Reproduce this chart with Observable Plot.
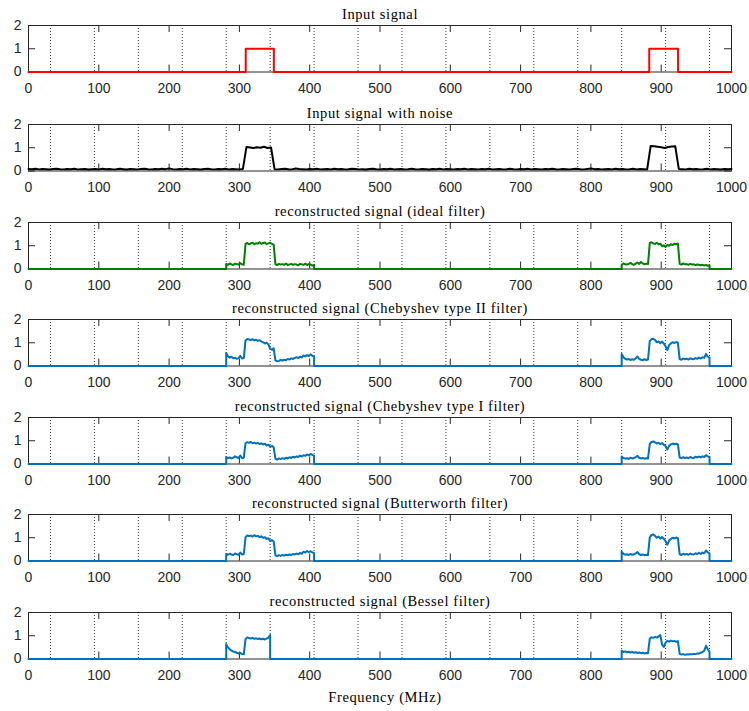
<!DOCTYPE html>
<html><head><meta charset="utf-8">
<script src="https://cdn.jsdelivr.net/npm/d3@7"></script>
<script src="https://cdn.jsdelivr.net/npm/@observablehq/plot@0.6"></script>
<style>
html,body{margin:0;padding:0;background:#fff;}
#chart{position:relative;width:749px;height:711px;overflow:hidden;}
#chart svg{position:absolute;left:0;background:transparent !important;}
#chart .ttl text{letter-spacing:0.6px;}
</style></head><body><div id="chart"></div>
<script>
// ---------- data ----------
const xTicks = [0, 100, 200, 300, 400, 500, 600, 700, 800, 900, 1000];
const yTicks = [0, 1, 2];
const channelEdges = [31.25, 93.75, 156.25, 218.75, 281.25, 343.75, 406.25, 468.75,
  531.25, 593.75, 656.25, 718.75, 781.25, 843.75, 906.25, 968.75];

const titles = [
  "Input signal",
  "Input signal with noise",
  "reconstructed signal (ideal filter)",
  "reconstructed signal (Chebyshev type II filter)",
  "reconstructed signal (Chebyshev type I filter)",
  "reconstructed signal (Butterworth filter)",
  "reconstructed signal (Bessel filter)"
];
const xLabel = "Frequency (MHz)";
const colors = ["#ff0000", "#000000", "#008000", "#0072bd", "#0072bd", "#0072bd", "#0072bd"];

// input pulses [start, end] MHz, amplitude 1
const inputPulses = [[309, 349], [883, 924]];
const inputLevel = 1;

// noisy input, sampled every 5 MHz from 0 to 1000
const noiseStep = 5;
const noisy = [
  0.09,0.08,0.10,0.07,0.09,0.08,0.06,0.09,0.10,0.08,0.07,0.09,0.08,0.10,0.07,0.08,0.09,0.06,0.08,0.09,
  0.07,0.10,0.08,0.09,0.07,0.08,0.10,0.08,0.06,0.09,0.08,0.07,0.09,0.10,0.08,0.07,0.09,0.08,0.10,0.08,
  0.11,0.08,0.07,0.09,0.08,0.10,0.07,0.09,0.08,0.06,0.09,0.10,0.08,0.07,0.09,0.08,0.10,0.07,0.09,0.08,
  0.07,0.09,
  1.03,1.01,0.99,1.02,1.00,1.04,0.99,1.01,
  0.08,0.07,0.09,0.10,0.08,0.07,0.11,0.09,0.08,0.07,
  0.09,0.08,0.10,0.07,0.08,0.09,0.07,0.10,0.08,0.09,0.07,0.08,0.10,0.09,0.07,0.08,0.06,0.09,0.10,0.08,
  0.07,0.09,0.08,0.10,0.07,0.08,0.09,0.07,0.08,0.10,0.08,0.07,0.09,0.08,0.06,0.09,0.08,0.10,0.07,0.09,
  0.08,0.07,0.09,0.08,0.10,0.07,0.09,0.08,0.07,0.09,0.08,0.10,0.07,0.08,0.09,0.07,0.08,0.10,0.08,0.07,
  0.09,0.08,0.10,0.07,0.09,0.08,0.07,0.09,0.08,0.10,0.08,0.07,0.09,0.08,0.07,0.09,0.10,0.08,0.07,0.09,
  0.11,0.08,0.09,0.07,0.08,0.09,0.07,0.10,0.08,0.09,0.07,0.08,0.10,0.07,0.09,0.08,0.07,
  1.07,1.06,1.04,1.02,0.99,1.03,1.05,1.06,
  0.09,0.08,0.07,0.10,0.08,0.09,0.07,0.08,0.10,0.07,0.09,0.08,0.06,0.09,0.08,0.09
];

// reconstructed bands, sampled every 2.5 MHz from the band start
const sampleStep = 2.5;
const bandStartA = 281.25;
const bandStartB = 843.75;

const idealA = [0.22,0.18,0.24,0.20,0.17,0.23,0.21,0.19,0.25,0.20,0.18,
  1.08,1.12,1.06,1.10,1.13,1.07,1.11,1.09,1.15,1.08,1.12,1.14,1.07,1.10,1.13,1.08,1.05,
  0.20,0.17,0.22,0.19,0.21,0.18,0.23,0.17,0.20,0.22,0.18,0.21,0.19,0.16,0.22,0.20,0.18,0.23,0.17,0.21,0.19,0.15,0.18];
const idealB = [0.18,0.24,0.20,0.19,0.22,0.26,0.21,0.18,0.23,0.28,0.22,0.30,0.24,0.20,0.23,0.21,
  1.12,1.15,1.10,1.08,1.13,1.06,1.09,0.98,1.02,0.95,1.04,1.00,1.07,1.03,1.09,1.06,1.10,
  0.22,0.19,0.24,0.20,0.21,0.18,0.22,0.19,0.20,0.17,0.19,0.18,0.16,0.18,0.15,0.17,0.14,0.16];

const cheb2A = [0.56,0.42,0.36,0.40,0.33,0.35,0.31,0.34,0.44,0.32,0.34,
  1.10,1.16,1.14,1.12,1.15,1.10,1.13,1.08,1.11,1.05,1.02,0.97,1.00,0.93,0.74,0.70,0.76,
  0.24,0.20,0.22,0.26,0.23,0.27,0.25,0.30,0.28,0.33,0.30,0.35,0.38,0.34,0.40,0.37,0.45,0.41,0.47,0.43,0.50,0.44,0.40];
const cheb2B = [0.52,0.38,0.31,0.28,0.30,0.26,0.29,0.27,0.33,0.41,0.30,0.27,0.25,0.29,0.26,0.28,
  1.08,1.15,1.17,1.12,1.02,1.06,0.98,1.05,0.96,0.85,0.68,0.90,0.97,1.02,0.99,1.03,1.00,
  0.30,0.27,0.32,0.29,0.31,0.28,0.33,0.30,0.29,0.34,0.31,0.36,0.32,0.38,0.35,0.52,0.40,0.36];

const cheb1A = [0.30,0.25,0.28,0.24,0.27,0.33,0.29,0.26,0.36,0.25,0.27,
  0.90,0.94,0.91,0.95,0.89,0.92,0.88,0.91,0.86,0.89,0.84,0.87,0.80,0.83,0.74,0.78,0.72,
  0.22,0.19,0.24,0.21,0.25,0.22,0.27,0.24,0.29,0.26,0.31,0.28,0.33,0.30,0.36,0.32,0.38,0.35,0.41,0.37,0.43,0.39,0.36];
const cheb1B = [0.32,0.26,0.23,0.25,0.22,0.27,0.24,0.26,0.30,0.35,0.27,0.24,0.26,0.23,0.25,0.24,
  0.86,0.95,0.97,0.93,0.88,0.91,0.85,0.90,0.83,0.76,0.62,0.78,0.84,0.88,0.85,0.87,0.84,
  0.28,0.25,0.29,0.26,0.28,0.25,0.30,0.27,0.26,0.31,0.28,0.32,0.29,0.33,0.30,0.38,0.33,0.30];

const buttA = [0.30,0.27,0.31,0.28,0.26,0.32,0.29,0.27,0.36,0.28,0.30,
  1.02,1.10,1.07,1.09,1.05,1.11,1.06,1.08,1.03,1.06,1.00,1.02,0.95,0.98,0.86,0.90,0.84,
  0.24,0.21,0.25,0.22,0.26,0.23,0.27,0.25,0.28,0.26,0.30,0.28,0.32,0.29,0.35,0.31,0.40,0.36,0.43,0.38,0.42,0.37,0.34];
const buttB = [0.40,0.31,0.27,0.29,0.26,0.30,0.27,0.29,0.33,0.38,0.29,0.26,0.28,0.25,0.27,0.26,
  1.02,1.12,1.14,1.08,1.00,1.05,0.96,1.03,0.95,0.85,0.70,0.88,0.95,1.00,0.97,1.01,0.98,
  0.29,0.26,0.31,0.28,0.30,0.27,0.32,0.29,0.28,0.33,0.30,0.35,0.31,0.36,0.33,0.45,0.37,0.33];

const besselA = [0.64,0.50,0.42,0.36,0.32,0.30,0.27,0.24,0.26,0.21,0.20,
  0.86,0.93,0.90,0.88,0.91,0.87,0.89,0.86,0.88,0.85,0.87,0.84,0.88,0.92,1.03];
const besselB = [0.36,0.30,0.33,0.29,0.31,0.28,0.30,0.27,0.29,0.26,0.28,0.25,0.27,0.24,0.26,0.25,
  0.88,0.93,0.91,0.95,0.92,0.97,1.03,0.62,0.52,0.70,0.78,0.75,0.79,0.76,0.78,0.74,0.77,
  0.22,0.19,0.21,0.18,0.20,0.19,0.21,0.20,0.22,0.21,0.24,0.23,0.27,0.30,0.36,0.57,0.42,0.30];

// ---------- build series ----------
const xMin = 0, xMax = 1000;
function inputSeries() {
  const pts = [{x: xMin, y: 0}];
  for (const [a, b] of inputPulses) {
    pts.push({x: a, y: 0}, {x: a, y: inputLevel}, {x: b, y: inputLevel}, {x: b, y: 0});
  }
  pts.push({x: xMax, y: 0});
  return pts;
}
function noisySeries() {
  return noisy.map((v, i) => ({x: i * noiseStep, y: v}));
}
function band(start, vals) {
  const end = start + (vals.length - 1) * sampleStep;
  return [{x: start, y: 0}, ...vals.map((v, k) => ({x: start + k * sampleStep, y: v})), {x: end, y: 0}];
}
function reconSeries(a, b) {
  return [{x: xMin, y: 0}, ...band(bandStartA, a), ...band(bandStartB, b), {x: xMax, y: 0}];
}
const series = [
  inputSeries(),
  noisySeries(),
  reconSeries(idealA, idealB),
  reconSeries(cheb2A, cheb2B),
  reconSeries(cheb1A, cheb1B),
  reconSeries(buttA, buttB),
  reconSeries(besselA, besselB)
];

// ---------- layout ----------
const W = 749;
const panelTop = [0, 99, 197, 294, 392, 489, 587];
const mTop = 25, innerH = 46.5;
const axisColor = "#262626";
const root = document.getElementById("chart");

series.forEach((data, i) => {
  const last = i === series.length - 1;
  const H = last ? 711 - panelTop[i] : 98;
  const marks = [
    Plot.ruleX(channelEdges, {x: d => d, stroke: axisColor, strokeWidth: 0.9, strokeDasharray: "1,2"}),
    Plot.ruleX(xTicks, {x: d => d, y1: 0, y2: 0.3, stroke: axisColor, strokeWidth: 1}),
    Plot.ruleX(xTicks, {x: d => d, y1: 2, y2: 1.7, stroke: axisColor, strokeWidth: 1}),
    Plot.ruleY(yTicks, {y: d => d, x1: 0, x2: 10, stroke: axisColor, strokeWidth: 1}),
    Plot.ruleY(yTicks, {y: d => d, x1: 1000, x2: 990, stroke: axisColor, strokeWidth: 1}),
    Plot.frame({stroke: axisColor, strokeWidth: 1}),
    Plot.line(data, {x: "x", y: "y", stroke: colors[i], strokeWidth: 2}),
    Plot.text([titles[i]], {frameAnchor: "top", text: d => d, lineAnchor: "bottom", dy: -7,
      fontFamily: "Liberation Serif, serif", fontSize: 14.5, fill: "#000", className: "ttl"})
  ];
  if (last) {
    marks.push(Plot.text([xLabel], {frameAnchor: "bottom", text: d => d, lineAnchor: "bottom",
      dy: 43, dx: 5, fontFamily: "Liberation Serif, serif", fontSize: 14.5, fill: "#000", className: "ttl"}));
  }
  const svg = Plot.plot({
    width: W,
    height: H,
    marginLeft: 28,
    marginRight: 18,
    marginTop: mTop,
    marginBottom: H - mTop - innerH,
    style: {fontFamily: "Liberation Sans, Arial, sans-serif", fontSize: "14px", color: axisColor, background: "transparent"},
    x: {domain: [xMin, xMax], ticks: xTicks, tickSize: 0, tickPadding: 11, tickFormat: d => String(d), label: null},
    y: {domain: [0, 2], ticks: yTicks, tickSize: 0, tickPadding: 7, tickFormat: d => String(d), label: null},
    marks
  });
  svg.style.top = panelTop[i] + "px";
  root.appendChild(svg);
});
</script>
</body></html>
